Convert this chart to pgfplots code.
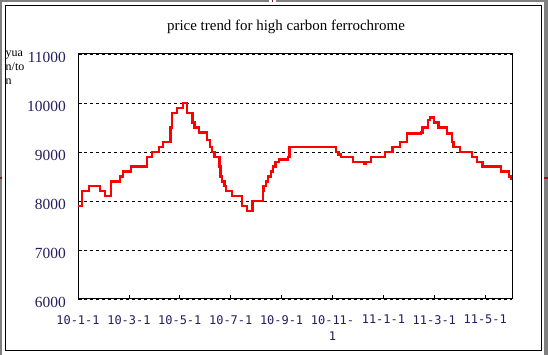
\documentclass[border=0pt]{standalone}
\usepackage{fontspec}
\setmainfont{Liberation Serif}
\newfontfamily\xlabfont{DejaVu Sans Mono}
\usepackage{pgfplots}
\pgfplotsset{compat=1.18}
\definecolor{navy}{RGB}{35,30,95}
\definecolor{edgegray}{RGB}{128,128,128}
\definecolor{edgemark}{RGB}{140,20,30}
\begin{document}
\begin{tikzpicture}
\useasboundingbox (0,0) rectangle (548bp,355bp);
\fill[edgegray] (0,0) rectangle (548bp,355bp);
\fill[white] (2.3bp,0) rectangle (544bp,352.7bp);
\fill[white] (269bp,352.7bp) rectangle (276bp,355bp);
\fill[edgemark] (271.5bp,352.7bp) rectangle (273bp,355bp);
\fill[edgemark] (0,176bp) rectangle (2.3bp,178bp);
\fill[edgemark] (544bp,176bp) rectangle (548bp,178bp);
\draw[black, line width=1bp] (5.5bp,4.5bp) rectangle (541.5bp,349.5bp);
\node[font=\fontsize{15}{18}\selectfont, anchor=center] at (286bp,328bp) {price trend for high carbon ferrochrome};
\node[font=\fontsize{12}{14}\selectfont, anchor=north west, align=left, inner sep=0pt] at (5.5bp,304bp) {yua\\n/to\\n};
\begin{axis}[
  at={(78bp,56bp)}, anchor=south west,
  scale only axis, width=434bp, height=245bp,
  xmin=78, xmax=512, ymin=6000, ymax=11000,
  scaled ticks=false,
  axis line style={line width=1bp},
  ytick={6000,7000,8000,9000,10000,11000},
  yticklabels={6000,7000,8000,9000,10000,11000},
  xtick={78,128.9,179.8,230.7,281.6,332.5,383.4,434.3,485.2},
  xticklabels={10-1-1,10-3-1,10-5-1,10-7-1,10-9-1,{10-11-\\1},11-1-1,11-3-1,11-5-1},
  tick align=inside, major tick length=4bp,
  tick style={black, line width=0.8bp},
  xtick pos=bottom, ytick pos=left,
  ymajorgrids, grid style={black, dashed, line width=0.8bp, dash pattern=on 3bp off 3bp},
  yticklabel style={font=\fontsize{15.5}{18}\selectfont, text=navy, anchor=east, inner sep=0pt, xshift=-12bp, yshift=-3bp},
  xticklabel style={font=\xlabfont\fontsize{12}{16.5}\selectfont, text=navy, anchor=north, inner sep=0pt, align=center, yshift=-16bp},
]
\addplot[const plot, red, line width=2.4bp] coordinates {
(78,7900) (81.7,8200) (89,8300) (100,8200) (105,8100) (110.7,8400) (120,8500)
(122.7,8600) (131,8700) (146.7,8900) (151.7,9000) (158.7,9100) (162.7,9200)
(170.5,9500) (171.7,9800) (176.7,9900) (183,10000) (186.7,9800) (192.3,9600)
(194.3,9500) (199,9400) (206.7,9250) (210,9100) (211.7,9000) (214.3,8900)
(219.3,8700) (220.5,8500) (222,8400) (224.3,8300) (226,8200) (231.7,8100)
(241.7,7900) (246.7,7800) (252.3,8000) (262.7,8200) (263.5,8300) (265.7,8400)
(267.7,8500) (270.7,8600) (273,8700) (275.5,8800) (279,8850) (287.7,8900)
(289.5,9100) (336,9000) (338.3,8950) (340.7,8900) (352.7,8800) (364,8750)
(366,8800) (370.7,8900) (385,9000) (392.3,9100) (400,9200) (406.7,9380)
(420.7,9400) (422.3,9500) (427.7,9650) (430,9700) (434,9600) (438.3,9500)
(446.7,9380) (451.7,9200) (453.3,9100) (460,9000) (471.7,8900) (476.7,8800)
(482.3,8700) (500.7,8600) (508.7,8500) (511,8450) (512,8450)
};
\end{axis}
\end{tikzpicture}
\end{document}
